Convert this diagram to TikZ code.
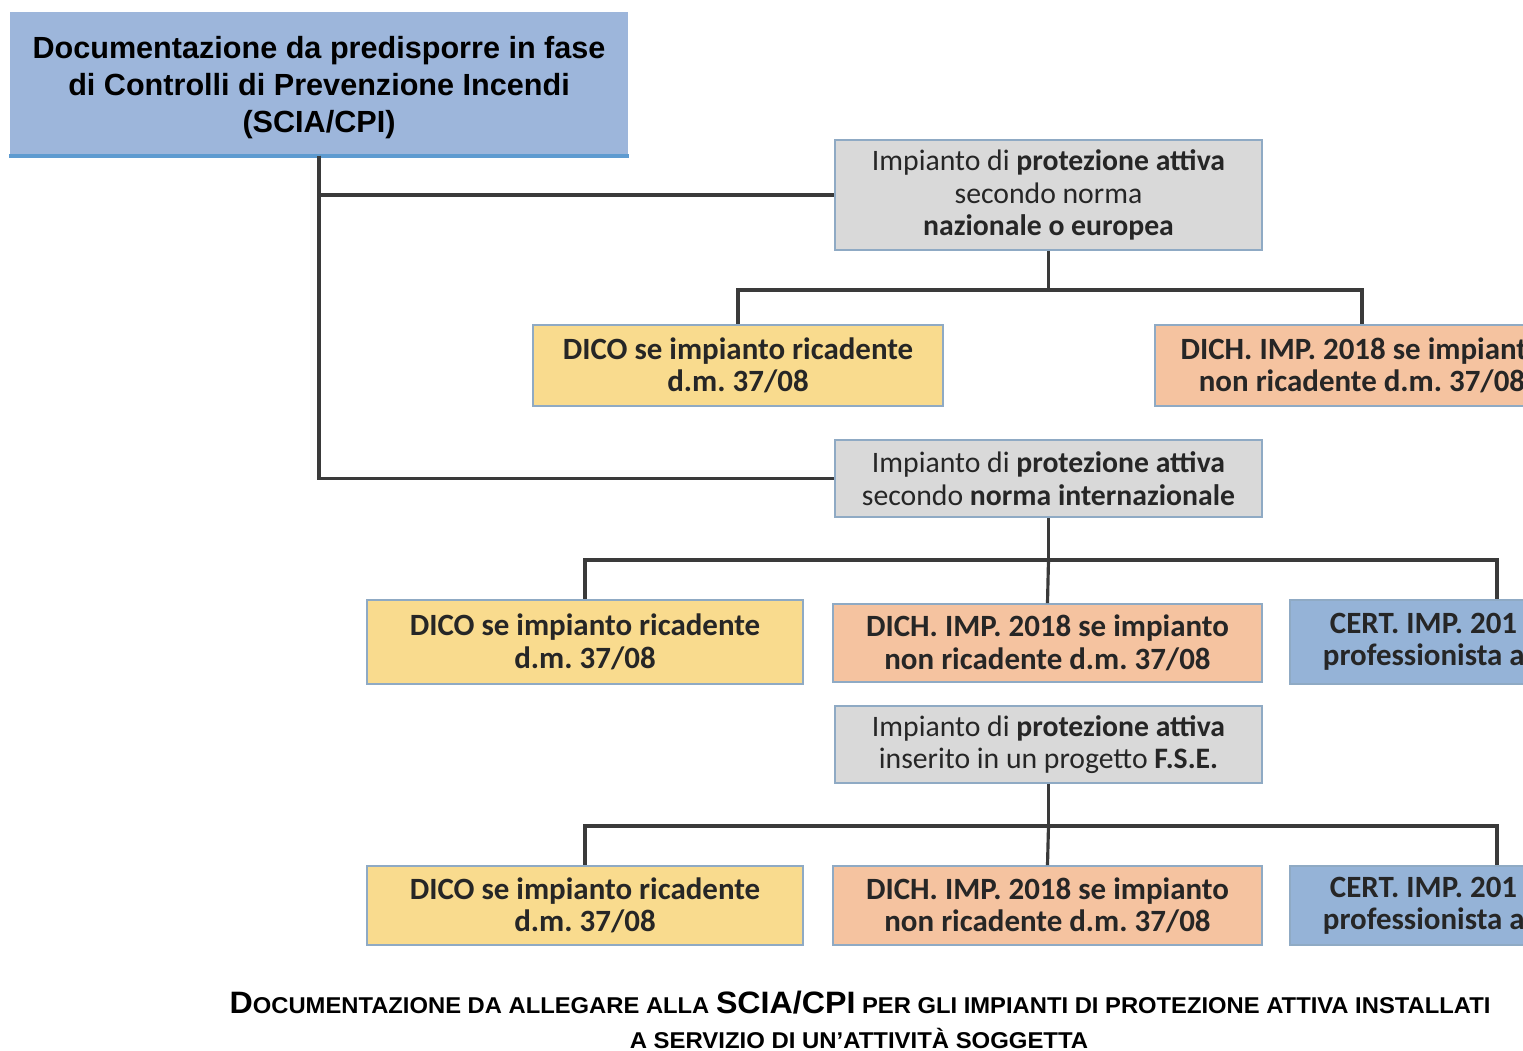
\documentclass[tikz,border=0pt]{standalone}
\usepackage{fontspec}
\setmainfont{Carlito}
\newfontfamily\arialfont{Liberation Sans}
\usepackage{xcolor}
\usepackage{graphicx}
\usepackage{tikz}
\usetikzlibrary{positioning, calc}

\definecolor{headblue}{HTML}{9DB6DB}
\definecolor{headline}{HTML}{5E9BD0}
\definecolor{certblue}{HTML}{95B3D7}
\definecolor{normgray}{HTML}{D9D9D9}
\definecolor{dicoyellow}{HTML}{F9DB8E}
\definecolor{dichorange}{HTML}{F5C3A0}
\definecolor{boxedge}{HTML}{8FAAC4}
\definecolor{wiregray}{HTML}{3A3A3A}
\definecolor{inkgray}{HTML}{262626}

\newcommand{\capbig}[1]{{\fontsize{8.8}{10}\selectfont #1}}
\newcommand{\capsmall}[1]{{\fontsize{6.5}{10}\selectfont #1}}
\frenchspacing

\begin{document}
\begin{tikzpicture}[x=0.01cm, y=-0.01cm,
    box/.style={rectangle, draw=boxedge, line width=0.5pt, inner sep=0pt, align=center, text=inkgray},
    normbox/.style={box, fill=normgray, minimum width=4.27cm, font=\fontsize{8.45}{9.2}\selectfont},
    docbox/.style={box, minimum height=0.81cm, font=\bfseries\fontsize{8.8}{9.2}\selectfont},
    wire/.style={draw=wiregray, line width=0.9pt}]
      \useasboundingbox (0,0) rectangle (1523,1051);
      \clip (0,0) rectangle (1523,1051);

      % Nodes
      \node[rectangle, fill=headblue, minimum width=6.18cm, minimum height=1.43cm, align=center,
            font=\arialfont\bfseries\fontsize{8.7}{10.5}\selectfont] (doc) at (319, 83.5)
            {\rule{0pt}{8.6pt}Documentazione da predisporre in fase\\di Controlli di Prevenzione Incendi\\(SCIA/CPI)};
      \node[normbox, minimum height=1.10cm] (natEu) at (1048.5, 195)
            {Impianto di \textbf{protezione attiva}\\secondo norma\\\textbf{nazionale o europea}};
      \node[docbox, fill=dicoyellow, minimum width=4.10cm] (dicoA) at (738, 365.5)
            {DICO se impianto ricadente\\d.m. 37/08};
      \node[docbox, fill=dichorange, minimum width=4.14cm] (dichA) at (1362, 365.5)
            {DICH. IMP. 2018 se impianto\\non ricadente d.m. 37/08};
      \node[normbox, minimum height=0.77cm] (intl) at (1048.5, 478.5)
            {Impianto di \textbf{protezione attiva}\\secondo \textbf{norma internazionale}};
      \node[docbox, fill=dicoyellow, minimum width=4.36cm, minimum height=0.84cm] (dicoB) at (585, 642)
            {DICO se impianto ricadente\\d.m. 37/08};
      \node[docbox, fill=dichorange, minimum width=4.29cm, minimum height=0.78cm] (dichB) at (1047.5, 643)
            {DICH. IMP. 2018 se impianto\\non ricadente d.m. 37/08};
      \node[docbox, fill=certblue, minimum width=4.14cm, minimum height=0.84cm, align=left,
            text width=3.48cm] (certB) at (1497, 642)
            {\spaceskip=0pt\relax\hspace*{0.7mm}CERT. IMP. 201\\professionista a};
      \node[normbox, minimum height=0.77cm] (fse) at (1048.5, 744.5)
            {Impianto di \textbf{protezione attiva}\\inserito in un progetto \textbf{F.S.E.}};
      \node[docbox, fill=dicoyellow, minimum width=4.36cm, minimum height=0.79cm] (dicoC) at (585, 905.5)
            {DICO se impianto ricadente\\d.m. 37/08};
      \node[docbox, fill=dichorange, minimum width=4.29cm, minimum height=0.79cm] (dichC) at (1047.5, 905.5)
            {DICH. IMP. 2018 se impianto\\non ricadente d.m. 37/08};
      \node[docbox, fill=certblue, minimum width=4.14cm, minimum height=0.79cm, align=left,
            text width=3.48cm] (certC) at (1497, 905.5)
            {\spaceskip=0pt\relax\hspace*{0.7mm}CERT. IMP. 201\\professionista a};
      \draw[headline, line width=1pt] (doc.south west) -- (doc.south east);

      % Edges
      \coordinate (barA) at (1048.5, 290);
      \coordinate (barB) at (1048.5, 560);
      \coordinate (barC) at (1048.5, 826);
      \draw[wire] (doc.south) |- (natEu.west);
      \draw[wire] (doc.south) |- (intl.west);
      \draw[wire] (natEu.south) -- (barA);
      \draw[wire] (barA) -| (dicoA.north);
      \draw[wire] (barA) -| (dichA.north);
      \draw[wire] (intl.south) -- (barB);
      \draw[wire] (barB) -| (dicoB.north);
      \draw[wire] (barB) -- (dichB.north);
      \draw[wire] (barB) -| (certB.north);
      \draw[wire] (fse.south) -- (barC);
      \draw[wire] (barC) -| (dicoC.north);
      \draw[wire] (barC) -- (dichC.north);
      \draw[wire] (barC) -| (certC.north);

      % Caption
      \node[font=\arialfont\bfseries, text=black] (caption1) at (860, 1003)
            {\resizebox{12.6cm}{\height}{\capbig{D}\capsmall{OCUMENTAZIONE DA ALLEGARE ALLA }\capbig{SCIA/CPI}\capsmall{ PER GLI IMPIANTI DI PROTEZIONE ATTIVA INSTALLATI}}};
      \node[font=\arialfont\bfseries, text=black] (caption2) at (859, 1038)
            {\resizebox{4.58cm}{\height}{\capsmall{A SERVIZIO DI UN’ATTIVITÀ SOGGETTA}}};
    \end{tikzpicture}
\end{document}
